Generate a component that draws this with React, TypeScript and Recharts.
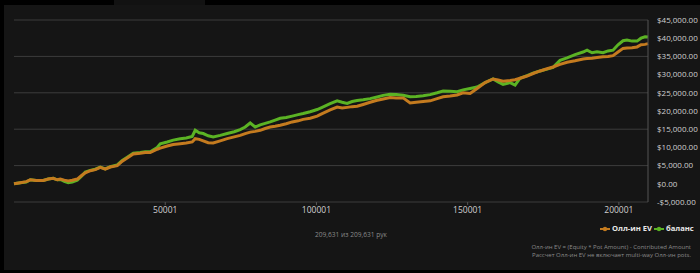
import React from "react";
import { LineChart, Line, XAxis, YAxis, CartesianGrid } from "recharts";

const hands = [1, 2082, 4065, 5387, 7370, 9684, 11336, 12989, 14311, 15302, 16624, 17946, 19268, 20921, 22243, 23565, 25218, 26870, 28523, 30175, 31828, 34141, 35794, 37446, 39429, 41743, 43395, 45048, 47361, 48353, 50666, 52649, 54963, 56946, 58929, 59920, 61242, 62564, 64217, 65869, 68183, 70496, 72810, 74793, 76445, 78098, 79750, 81403, 83055, 84708, 86360, 88013, 89996, 91979, 93962, 95614, 97928, 100241, 101894, 104538, 106851, 108504, 110156, 111809, 113461, 115444, 117758, 119741, 122055, 124368, 126351, 128665, 130978, 132961, 135275, 137588, 139902, 141885, 144198, 146512, 148495, 150808, 153122, 155766, 158410, 160062, 161715, 164028, 165681, 167333, 169647, 171630, 173943, 176257, 178240, 180553, 182867, 185511, 188155, 189477, 191129, 192782, 194765, 196417, 198070, 199722, 201375, 202697, 204349, 206002, 207324, 208646, 209631];

const allInEV = [0, 0.3, 0.6, 1.1, 0.9, 0.9, 1.3, 1.5, 1.1, 1.3, 1.0, 0.8, 1.0, 1.3, 2.2, 3.0, 3.6, 3.9, 4.5, 4.0, 4.6, 5.0, 6.2, 7.1, 8.2, 8.4, 8.6, 8.6, 9.5, 9.8, 10.4, 10.8, 11.0, 11.2, 11.5, 12.4, 12.2, 11.8, 11.3, 11.2, 11.8, 12.4, 12.9, 13.3, 13.8, 14.2, 14.4, 14.7, 15.2, 15.6, 15.8, 16.1, 16.5, 17.0, 17.3, 17.7, 18.0, 18.6, 19.3, 20.3, 21.1, 20.8, 21.0, 21.2, 21.3, 21.8, 22.4, 22.9, 23.3, 23.7, 23.6, 23.6, 22.2, 22.4, 22.6, 22.8, 23.4, 23.9, 24.1, 24.4, 25.0, 24.8, 26.2, 27.8, 28.8, 28.5, 28.2, 28.4, 28.6, 29.0, 29.6, 30.3, 31.0, 31.6, 32.1, 32.8, 33.4, 33.8, 34.3, 34.4, 34.5, 34.7, 34.9, 35.0, 35.2, 36.2, 37.2, 37.3, 37.4, 37.6, 38.2, 38.3, 38.5];

const balance = [0, 0.3, 0.5, 1.1, 0.9, 0.9, 1.3, 1.5, 1.1, 1.2, 0.7, 0.3, 0.5, 1.0, 2.0, 3.2, 3.7, 4.0, 4.6, 4.1, 4.7, 5.2, 6.4, 7.3, 8.4, 8.6, 8.8, 8.8, 10.0, 11.0, 11.5, 12.0, 12.4, 12.6, 13.0, 14.7, 14.0, 13.8, 13.2, 12.9, 13.3, 13.8, 14.3, 14.9, 15.6, 16.7, 15.6, 16.2, 16.6, 17.0, 17.5, 18.0, 18.2, 18.6, 19.0, 19.3, 19.8, 20.4, 21.0, 22.0, 22.8, 22.4, 22.1, 22.6, 22.9, 23.1, 23.4, 23.8, 24.3, 24.6, 24.5, 24.3, 23.9, 24.0, 24.2, 24.5, 25.0, 25.5, 25.4, 25.3, 25.8, 26.2, 26.6, 27.8, 28.8, 28.0, 27.3, 27.8, 27.1, 29.0, 29.7, 30.4, 31.0, 31.5, 32.0, 33.9, 34.6, 35.5, 36.2, 36.7, 36.0, 36.3, 36.0, 36.5, 36.7, 38.2, 39.3, 39.5, 39.2, 39.2, 40.0, 40.4, 40.3];

const xTicks = [50001, 100001, 150001, 200001];
const yTicks = [-5000, 0, 5000, 10000, 15000, 20000, 25000, 30000, 35000, 40000, 45000];

const seriesNames = ["Олл-ин EV", "баланс"];
const handsLabel = "209,631 из 209,631 рук";
const noteLines = [
  "Олл-ин EV = (Equity * Pot Amount) - Contributed Amount",
  "Рассчет Олл-ин EV не включает multi-way Олл-ин pots.",
];

const data = hands.map((h, i) => ({
  hand: h,
  ev: allInEV[i] * 1000,
  bal: balance[i] * 1000,
}));

const ORANGE = "#c47b1f";
const GREEN = "#5bb324";
const FONT = "'Open Sans', 'Noto Sans', sans-serif";

const fmtMoney = (v: number) => {
  const s = Math.abs(v).toLocaleString("en-US", { minimumFractionDigits: 2, maximumFractionDigits: 2 });
  return (v < 0 ? "-$" : "$") + s;
};

const LegendIcon = ({ color, left }: { color: string; left: number }) => (
  <svg width="10" height="6" style={{ position: "absolute", left, top: 226 }}>
    <line x1="0" y1="3" x2="10" y2="3" stroke={color} strokeWidth="2" />
    <circle cx="5" cy="3" r="2.2" fill={color} />
  </svg>
);

export default function App() {
  return (
    <div style={{ position: "absolute", left: 0, top: 0, width: 700, height: 273, background: "#000", overflow: "hidden", fontFamily: FONT }}>
      <div style={{ position: "absolute", left: 114, top: 0, width: 91, height: 6, background: "#121212" }} />
      <div style={{ position: "absolute", left: 4, top: 5, width: 696, height: 265, background: "#151515" }} />
      <div style={{ position: "absolute", left: 0, top: 0 }}>
        <LineChart width={700} height={273} data={data} margin={{ top: 20, right: 0, bottom: 51, left: 14 }}>
          <CartesianGrid vertical={false} stroke="#3c3c3c" strokeWidth={1} />
          <XAxis
            dataKey="hand"
            type="number"
            domain={[1, 209631]}
            ticks={xTicks}
            axisLine={false}
            tickLine={{ stroke: "#555" }}
            tickSize={3}
            tick={{ fill: "#d0d0d0", fontSize: 8.5, fontFamily: FONT }}
            height={20}
          />
          <YAxis
            orientation="right"
            domain={[-5000, 45000]}
            ticks={yTicks}
            tickFormatter={fmtMoney}
            axisLine={{ stroke: "#555" }}
            tickLine={false}
            tick={{ fill: "#d0d0d0", fontSize: 8, fontFamily: FONT }}
            width={52}
            tickMargin={3}
          />
          <Line type="linear" dataKey="bal" stroke={GREEN} strokeWidth={3} dot={false} isAnimationActive={false} />
          <Line type="linear" dataKey="ev" stroke={ORANGE} strokeWidth={3} dot={false} isAnimationActive={false} />
        </LineChart>
      </div>
      <LegendIcon color={ORANGE} left={600} />
      <div style={{ position: "absolute", left: 612, top: 223, color: "#e8e8e8", fontSize: 7.6, fontWeight: 700, whiteSpace: "nowrap", lineHeight: "11px" }}>{seriesNames[0]}</div>
      <LegendIcon color={GREEN} left={654} />
      <div style={{ position: "absolute", left: 666, top: 223, color: "#e8e8e8", fontSize: 7.6, fontWeight: 700, whiteSpace: "nowrap", lineHeight: "11px" }}>{seriesNames[1]}</div>
      <div style={{ position: "absolute", left: 315, top: 230, color: "#8a8a8a", fontSize: 6.6, whiteSpace: "nowrap", lineHeight: "10px" }}>{handsLabel}</div>
      <div style={{ position: "absolute", right: 9, top: 243, color: "#8a8a8a", fontSize: 6, textAlign: "right", lineHeight: "8px", whiteSpace: "nowrap" }}>
        <div>{noteLines[0]}</div>
        <div>{noteLines[1]}</div>
      </div>
    </div>
  );
}
